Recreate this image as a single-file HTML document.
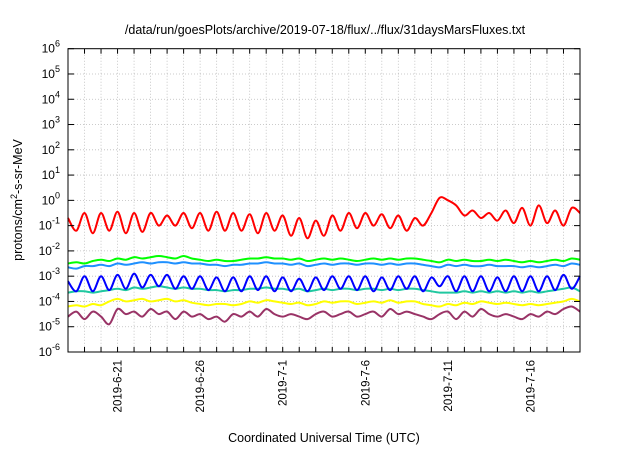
<!DOCTYPE html>
<html><head><meta charset="utf-8"><style>
body{margin:0;background:#fff;}
svg{font-family:"Liberation Sans",sans-serif;}
</style></head><body>
<svg width="640" height="448" xmlns="http://www.w3.org/2000/svg">
<rect width="640" height="448" fill="#fff"/>
<text x="325" y="34" font-size="12.5" text-anchor="middle">/data/run/goesPlots/archive/2019-07-18/flux/../flux/31daysMarsFluxes.txt</text>
<g id="grid"></g>
<g id="series"></g>
<rect x="68" y="48.7" width="512" height="303.3" fill="none" stroke="#000" stroke-width="1"/>
<g id="axes"></g>
<text transform="translate(22,200) rotate(-90)" font-size="12.5" text-anchor="middle">protons/cm<tspan dy="-5" font-size="9">2</tspan><tspan dy="5">-s-sr-MeV</tspan></text>
<text x="324" y="442" font-size="12.5" text-anchor="middle">Coordinated Universal Time (UTC)</text>
</svg>
<script>
const dateLabels=["2019-6-21","2019-6-26","2019-7-1","2019-7-6","2019-7-11","2019-7-16"];
const dateDays=[3,8,13,18,23,28];
const yExps=[-6,-5,-4,-3,-2,-1,0,1,2,3,4,5,6];
const red=[-0.7,-1.2,-0.5,-1.3,-0.5,-1.2,-0.45,-1.3,-0.5,-1.25,-0.5,-1.0,-0.6,-1.0,-0.5,-1.1,-0.5,-1.2,-0.45,-1.2,-0.5,-1.2,-0.55,-1.3,-0.5,-1.2,-0.6,-1.4,-0.7,-1.5,-0.8,-1.4,-0.6,-1.2,-0.5,-1.1,-0.5,-1.0,-0.55,-1.1,-0.6,-1.2,-0.7,-1.0,-0.5,0.1,0.0,-0.2,-0.6,-0.4,-0.7,-0.5,-0.8,-0.4,-0.9,-0.3,-1.0,-0.2,-0.9,-0.4,-1.0,-0.3,-0.5];
const green=[-2.5,-2.45,-2.5,-2.4,-2.35,-2.4,-2.3,-2.35,-2.25,-2.3,-2.25,-2.2,-2.25,-2.3,-2.2,-2.3,-2.35,-2.4,-2.35,-2.4,-2.4,-2.35,-2.3,-2.3,-2.25,-2.3,-2.3,-2.35,-2.3,-2.4,-2.35,-2.3,-2.35,-2.3,-2.35,-2.4,-2.35,-2.3,-2.35,-2.3,-2.35,-2.3,-2.3,-2.35,-2.4,-2.45,-2.35,-2.4,-2.35,-2.4,-2.4,-2.35,-2.4,-2.35,-2.4,-2.45,-2.4,-2.45,-2.4,-2.35,-2.4,-2.3,-2.35];
const lblue=[-2.65,-2.7,-2.6,-2.6,-2.55,-2.6,-2.5,-2.55,-2.5,-2.45,-2.5,-2.45,-2.45,-2.5,-2.45,-2.5,-2.5,-2.55,-2.55,-2.6,-2.55,-2.55,-2.5,-2.5,-2.45,-2.5,-2.5,-2.55,-2.5,-2.6,-2.55,-2.5,-2.55,-2.5,-2.5,-2.55,-2.5,-2.5,-2.55,-2.5,-2.55,-2.5,-2.5,-2.55,-2.6,-2.65,-2.55,-2.6,-2.55,-2.6,-2.6,-2.55,-2.6,-2.6,-2.6,-2.65,-2.6,-2.65,-2.6,-2.55,-2.6,-2.5,-2.55];
const blue=[-3.2,-3.6,-3.0,-3.6,-3.0,-3.55,-2.95,-3.5,-2.9,-3.45,-2.95,-3.4,-2.95,-3.5,-3.0,-3.5,-3.0,-3.55,-3.05,-3.6,-3.05,-3.6,-3.0,-3.55,-3.0,-3.6,-3.05,-3.6,-3.1,-3.6,-3.05,-3.55,-3.0,-3.5,-3.0,-3.55,-3.0,-3.6,-3.05,-3.55,-3.0,-3.5,-3.0,-3.6,-3.05,-3.4,-3.0,-3.6,-3.0,-3.6,-3.0,-3.6,-3.05,-3.6,-3.0,-3.6,-3.0,-3.6,-3.0,-3.55,-2.95,-3.5,-3.0];
const teal=[-3.65,-3.6,-3.6,-3.65,-3.6,-3.55,-3.5,-3.55,-3.45,-3.5,-3.45,-3.4,-3.45,-3.5,-3.45,-3.5,-3.5,-3.55,-3.55,-3.6,-3.55,-3.55,-3.5,-3.5,-3.45,-3.5,-3.5,-3.55,-3.5,-3.6,-3.55,-3.5,-3.55,-3.5,-3.5,-3.55,-3.5,-3.5,-3.55,-3.5,-3.55,-3.5,-3.5,-3.55,-3.6,-3.65,-3.65,-3.65,-3.6,-3.65,-3.6,-3.65,-3.6,-3.65,-3.6,-3.65,-3.6,-3.65,-3.6,-3.55,-3.5,-3.45,-3.6];
const yellow=[-4.2,-4.15,-4.2,-4.1,-4.15,-4.0,-3.9,-4.0,-3.95,-3.9,-4.0,-3.95,-3.9,-4.0,-3.95,-4.05,-4.1,-4.15,-4.1,-4.1,-4.15,-4.1,-4.0,-4.05,-3.95,-4.0,-4.05,-4.1,-4.05,-4.15,-4.1,-4.0,-4.05,-4.0,-4.0,-4.1,-4.05,-4.0,-4.05,-3.95,-4.05,-4.0,-4.0,-4.1,-4.15,-4.2,-4.1,-4.15,-4.05,-4.1,-4.0,-4.05,-4.1,-4.05,-4.1,-4.15,-4.1,-4.15,-4.1,-4.05,-4.0,-3.9,-4.0];
const purple=[-4.6,-4.4,-4.7,-4.4,-4.6,-4.9,-4.3,-4.5,-4.4,-4.6,-4.3,-4.5,-4.4,-4.7,-4.4,-4.6,-4.5,-4.7,-4.6,-4.8,-4.5,-4.6,-4.4,-4.6,-4.3,-4.5,-4.6,-4.5,-4.6,-4.7,-4.5,-4.4,-4.6,-4.5,-4.4,-4.6,-4.5,-4.4,-4.6,-4.3,-4.5,-4.4,-4.5,-4.6,-4.7,-4.5,-4.4,-4.7,-4.4,-4.6,-4.3,-4.5,-4.6,-4.5,-4.6,-4.7,-4.5,-4.6,-4.4,-4.5,-4.3,-4.2,-4.4];
const NS="http://www.w3.org/2000/svg";
const X0=68,X1=580,Y0=48.7,Y1=352,DAYS=31;
function xs(d){return X0+(X1-X0)*d/DAYS;}
function ys(v){return Y1-(v+6)/12*(Y1-Y0);}
function mk(t,a,p){const e=document.createElementNS(NS,t);for(const k in a)e.setAttribute(k,a[k]);p.appendChild(e);return e;}
const grid=document.getElementById('grid'),axes=document.getElementById('axes'),ser=document.getElementById('series');
for(let d=1;d<DAYS;d++){
 const x=xs(d);
 const g=mk('line',{x1:x,x2:x,y1:Y0,y2:Y1,stroke:'#bbb','stroke-dasharray':'1,2','stroke-width':0.8},grid);
 
 
 const t=mk('line',{x1:x,x2:x,y1:Y1,y2:Y1-5,stroke:'#000'},axes);
 
 
 const t2=mk('line',{x1:x,x2:x,y1:Y0,y2:Y0+5,stroke:'#000'},axes);
 
 
}
dateLabels.forEach((s,i)=>{
 const x=xs(dateDays[i]);
 const t=mk('text',{transform:`translate(${x+4},${Y1+8}) rotate(-90)`,'font-size':'11.5','text-anchor':'end'},axes);
 t.textContent=s;
 
 
});
yExps.forEach(e=>{
 const y=ys(e);
 if(e>-6&&e<6){
  const g=mk('line',{x1:X0,x2:X1,y1:y,y2:y,stroke:'#bbb','stroke-dasharray':'1,2','stroke-width':0.8},grid);
  
  
 }
 const t=mk('line',{x1:X0,x2:X0+6,y1:y,y2:y,stroke:'#000'},axes);
 
 
 const t2=mk('line',{x1:X1,x2:X1-6,y1:y,y2:y,stroke:'#000'},axes);
 
 
 const l=mk('text',{x:X0-8,y:y+4,'font-size':'12','text-anchor':'end'},axes);
 l.innerHTML=`10<tspan dy="-6" font-size="9">${e}</tspan>`;
 
 
});
function smooth(P){
 let d='M'+P[0][0].toFixed(1)+','+P[0][1].toFixed(1);
 for(let i=0;i<P.length-1;i++){
  const p0=P[i-1]||P[i],p1=P[i],p2=P[i+1],p3=P[i+2]||p2;
  const c1=[p1[0]+(p2[0]-p0[0])/6,p1[1]+(p2[1]-p0[1])/6];
  const c2=[p2[0]-(p3[0]-p1[0])/6,p2[1]-(p3[1]-p1[1])/6];
  d+=` C${c1[0].toFixed(1)},${c1[1].toFixed(1)} ${c2[0].toFixed(1)},${c2[1].toFixed(1)} ${p2[0].toFixed(1)},${p2[1].toFixed(1)}`;
 }
 return d;
}
const list=[[purple,'#993366','purple'],[yellow,'#ffff00','yellow'],[teal,'#20c8a0','teal'],[lblue,'#1e90ff','light-blue'],[green,'#00ff00','green'],[blue,'#0000ff','blue'],[red,'#ff0000','red']];
list.forEach(([arr,c,n])=>{
 const step=DAYS/(arr.length-1);
 const P=arr.map((v,i)=>[xs(i*step),ys(v)]);
 const p=mk('path',{d:smooth(P),fill:'none',stroke:c,'stroke-width':2,'stroke-linejoin':'round'},ser);
 
 
});
</script>
</body></html>
